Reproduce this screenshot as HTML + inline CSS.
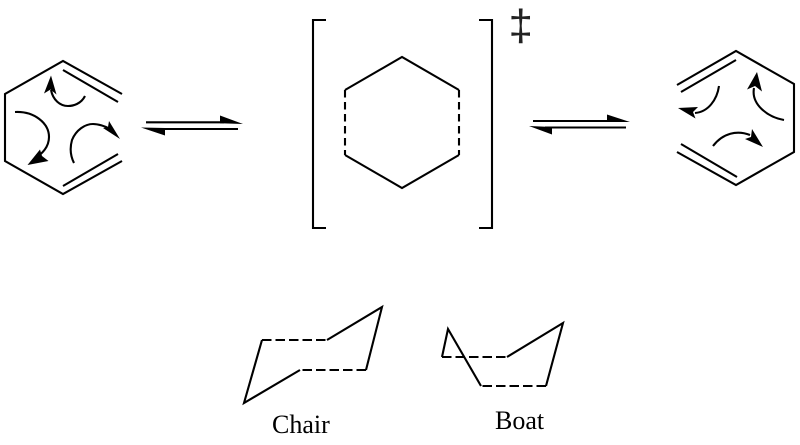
<!DOCTYPE html>
<html>
<head>
<meta charset="utf-8">
<style>
html,body{margin:0;padding:0;background:#fff;width:800px;height:445px;overflow:hidden}
svg{display:block}
.l{fill:none;stroke:#000;stroke-width:2.1;stroke-linejoin:miter;stroke-linecap:butt}
.d{fill:none;stroke:#000;stroke-width:2.1;stroke-dasharray:7.5 4.5}
.h{fill:none;stroke:#000;stroke-width:2.1;stroke-dasharray:9.5 4}
.c{fill:none;stroke:#000;stroke-width:2.1}
text{font-family:"Liberation Serif",serif;font-size:26px;fill:#000}
</style>
</head>
<body>
<svg width="800" height="445" viewBox="0 0 800 445" xmlns="http://www.w3.org/2000/svg">
<!-- left ring -->
<path class="l" d="M122 94L63 61L5 94V161L63 194L122 161"/>
<path class="l" d="M63 70L118 102M63 186L118 154"/>
<path class="c" d="M85 96C81 104 73 106 68 106C60 106 53 100 51 90"/>
<path d="M51 75.500L44 93.500L50.500 89.500L56.500 94.500Z"/>
<path class="c" d="M15 112C34 111 49 123 49 137C49 147 42 154 35 158"/>
<path d="M27.500 165L40 149.500L42 156L48.500 161Z"/>
<path class="c" d="M74 163C70 155 70 147 72 140C76 130 85 124 93 124C98 124 105 126 110 129"/>
<path d="M120 139L109 121L108 127L103 128Z"/>
<!-- left equilibrium -->
<path class="l" d="M146 122.300H224M238 129H161"/>
<path d="M220 115.500L243 124L220 123.300Z"/>
<path d="M141 127.500L165 135.500L165 128Z"/>
<!-- TS -->
<path class="l" d="M326 20H313V228H326M479 20H492V228H479"/>
<path class="l" d="M345 90L402 57L459 90M459 155L402 188L345 155"/>
<path class="d" d="M345 90V155M459 90V155"/>
<text x="508.500" y="40" style="font-family:'Liberation Sans',sans-serif;font-size:44px;fill:#222">‡</text>
<!-- right equilibrium -->
<path class="l" d="M533 121H612M626 127.500H545"/>
<path d="M607 114.500L630 122L607 122Z"/>
<path d="M529 126L552 134.500L552 127Z"/>
<!-- right ring -->
<path class="l" d="M677 85L736 51L794 84V152L736 185L677 152"/>
<path class="l" d="M736 60L681 92M737 177L681 144"/>
<path class="c" d="M719 86C717 100 708 112 695 113"/>
<path d="M678 108L695.500 118.500L693 112L698 107Z"/>
<path class="c" d="M784 120C767 117 751 104 754 88"/>
<path d="M757 72L747 89.500L755 86L762 91.500Z"/>
<path class="c" d="M713 146C723 133 737 130 750 135"/>
<path d="M763 147L752 129L751 137L745 139Z"/>
<!-- chair -->
<path class="l" d="M327 340L382 307L366 370M300 370L244 403L262 340"/>
<path class="h" d="M262 340H327M366 370H300"/>
<!-- boat -->
<path class="l" d="M442 357L448 329L481 386M546 386L563 323L507 357"/>
<path class="h" d="M442 357H507M546 386H481"/>
<text x="272" y="433">Chair</text>
<text x="495" y="429">Boat</text>
</svg>
</body>
</html>
